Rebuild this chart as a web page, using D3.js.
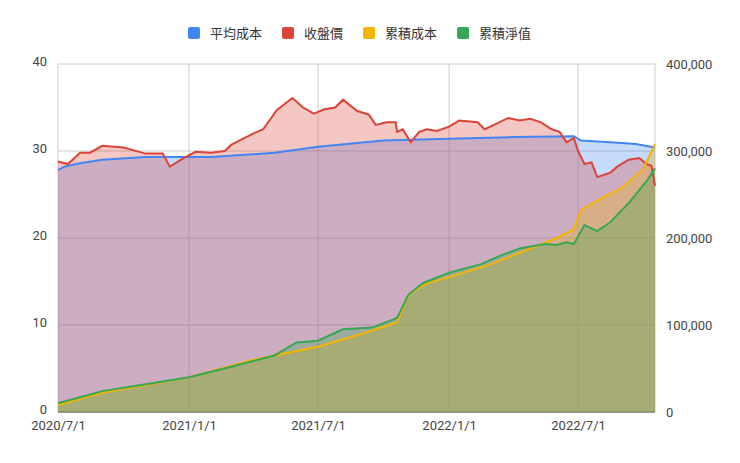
<!DOCTYPE html><html><head><meta charset="utf-8"><script src="https://cdn.jsdelivr.net/npm/d3@7"></script>
<style>body{margin:0;background:#fff;font-family:Roboto,Arial,sans-serif}</style></head><body><svg id="c" width="740" height="463"></svg>
<script>
const seriesNames=["平均成本","收盤價","累積成本","累積淨值"];
const colors=["#4285F4","#DB4437","#F4B400","#34A853"];
const leftTicks=[0,10,20,30,40];
const rightTicks=[0,100000,200000,300000,400000];
const xTicks=["2020/7/1","2021/1/1","2021/7/1","2022/1/1","2022/7/1"];
const avgDates=["2020/7/1","2020/7/10","2020/8/1","2020/9/1","2020/11/1","2021/2/1","2021/5/1","2021/7/1","2021/10/1","2022/1/1","2022/4/1","2022/6/25","2022/7/5","2022/8/15","2022/9/20","2022/10/17"];
const avgValues=[27.8,28.2,28.6,29.0,29.3,29.3,29.8,30.5,31.2,31.4,31.6,31.7,31.2,31.0,30.8,30.4];
const closeDates=["2020/7/1","2020/7/15","2020/8/1","2020/8/15","2020/9/1","2020/10/1","2020/11/1","2020/11/25","2020/12/5","2020/12/25","2021/1/10","2021/2/1","2021/2/20","2021/3/1","2021/3/20","2021/4/1","2021/4/15","2021/5/4","2021/5/26","2021/6/10","2021/6/25","2021/7/10","2021/7/25","2021/8/5","2021/8/25","2021/9/10","2021/9/20","2021/10/5","2021/10/18","2021/10/20","2021/10/28","2021/11/8","2021/11/20","2021/12/1","2021/12/15","2022/1/1","2022/1/15","2022/2/10","2022/2/20","2022/3/5","2022/3/25","2022/4/10","2022/4/25","2022/5/10","2022/5/25","2022/6/5","2022/6/15","2022/6/25","2022/7/1","2022/7/10","2022/7/20","2022/7/28","2022/8/15","2022/8/25","2022/9/10","2022/9/25","2022/10/5","2022/10/12","2022/10/17"];
const closeValues=[28.8,28.5,29.8,29.8,30.6,30.4,29.7,29.7,28.2,29.2,29.9,29.8,30.0,30.7,31.5,32.0,32.5,34.7,36.1,35.0,34.3,34.8,35.0,35.9,34.6,34.2,33.0,33.3,33.3,32.2,32.5,31.0,32.2,32.5,32.3,32.8,33.5,33.3,32.5,33.0,33.8,33.5,33.7,33.3,32.5,32.2,31.0,31.5,30.0,28.5,28.7,27.0,27.5,28.2,29.0,29.2,28.5,28.3,26.0];
const costDates=["2020/7/1","2020/9/1","2021/1/1","2021/4/1","2021/7/1","2021/9/1","2021/10/20","2021/11/5","2021/12/1","2022/1/1","2022/3/1","2022/5/1","2022/6/1","2022/6/25","2022/7/5","2022/8/1","2022/9/1","2022/10/1","2022/10/17"];
const costValues=[8000,22000,40000,60000,75000,90000,103000,135000,148000,155000,170000,190000,200000,210000,232000,245000,258000,280000,308000];
const netDates=["2020/7/1","2020/8/1","2020/9/1","2020/11/1","2021/1/1","2021/3/1","2021/5/1","2021/6/1","2021/7/1","2021/8/5","2021/9/15","2021/10/20","2021/11/5","2021/11/25","2022/1/1","2022/2/15","2022/3/15","2022/4/10","2022/5/15","2022/6/1","2022/6/15","2022/6/25","2022/7/10","2022/7/28","2022/8/15","2022/9/10","2022/10/5","2022/10/17"];
const netValues=[10000,17000,24000,32000,40000,52000,65000,80000,82000,95000,97000,108000,135000,148000,160000,170000,180000,188000,193000,192000,195000,193000,215000,208000,218000,240000,265000,280000];

const P=d3.timeParse("%Y/%m/%d");
const svg=d3.select("#c");
const L=58,R=655,T=64,B=412;
const x=d3.scaleTime().domain([P("2020/7/1"),P("2022/10/17")]).range([L,R]);
const yl=d3.scaleLinear().domain([0,40]).range([B,T]);
const yr=d3.scaleLinear().domain([0,400000]).range([B,T]);
svg.append("g").selectAll("line").data(leftTicks).join("line").attr("x1",L).attr("x2",R).attr("y1",d=>yl(d)).attr("y2",d=>yl(d)).attr("stroke",d=>d==0?"#333":"#ccc");
svg.append("g").selectAll("line").data(xTicks).join("line").attr("x1",d=>x(P(d))).attr("x2",d=>x(P(d))).attr("y1",T).attr("y2",B).attr("stroke","#ccc");
svg.append("line").attr("x1",R).attr("x2",R).attr("y1",T).attr("y2",B).attr("stroke","#ccc");
const sets=[[avgDates,avgValues,yl],[closeDates,closeValues,yl],[costDates,costValues,yr],[netDates,netValues,yr]];
sets.forEach(([ds,vs,y],i)=>{
  const pts=ds.map((d,j)=>[P(d),vs[j]]);
  svg.append("path").datum(pts).attr("d",d3.area().x(d=>x(d[0])).y0(B).y1(d=>y(d[1]))).attr("fill",colors[i]).attr("fill-opacity",0.3);
});
sets.forEach(([ds,vs,y],i)=>{
  const pts=ds.map((d,j)=>[P(d),vs[j]]);
  svg.append("path").datum(pts).attr("d",d3.line().x(d=>x(d[0])).y(d=>y(d[1]))).attr("fill","none").attr("stroke",colors[i]).attr("stroke-width",2);
});
const ax=svg.append("g").attr("transform",`translate(0,${B})`).call(d3.axisBottom(x).tickValues(xTicks.map(P)).tickFormat((d,i)=>xTicks[i]).tickSize(0).tickPadding(9));
const al=svg.append("g").attr("transform",`translate(${L-8},-3)`).call(d3.axisLeft(yl).tickValues(leftTicks).tickSize(0));
const ar=svg.append("g").attr("transform",`translate(${R+8},0)`).call(d3.axisRight(yr).tickValues(rightTicks).tickSize(0).tickFormat(d3.format(",")));
[ax,al,ar].forEach(a=>{a.select(".domain").remove();a.selectAll("text").attr("font-size",13).attr("fill","#444").attr("font-family","Roboto,Arial,sans-serif");});
const lg=svg.append("g");
let lx=188;
seriesNames.forEach((n,i)=>{
  lg.append("rect").attr("x",lx).attr("y",27).attr("width",12).attr("height",12).attr("rx",2).attr("fill",colors[i]);
  const t=lg.append("text").attr("x",lx+22).attr("y",38).text(n).attr("font-size",13).attr("fill","#333").attr("font-family","Noto Sans CJK TC,sans-serif");
  lx+=22+t.node().getComputedTextLength()+20;
});
</script></body></html>
